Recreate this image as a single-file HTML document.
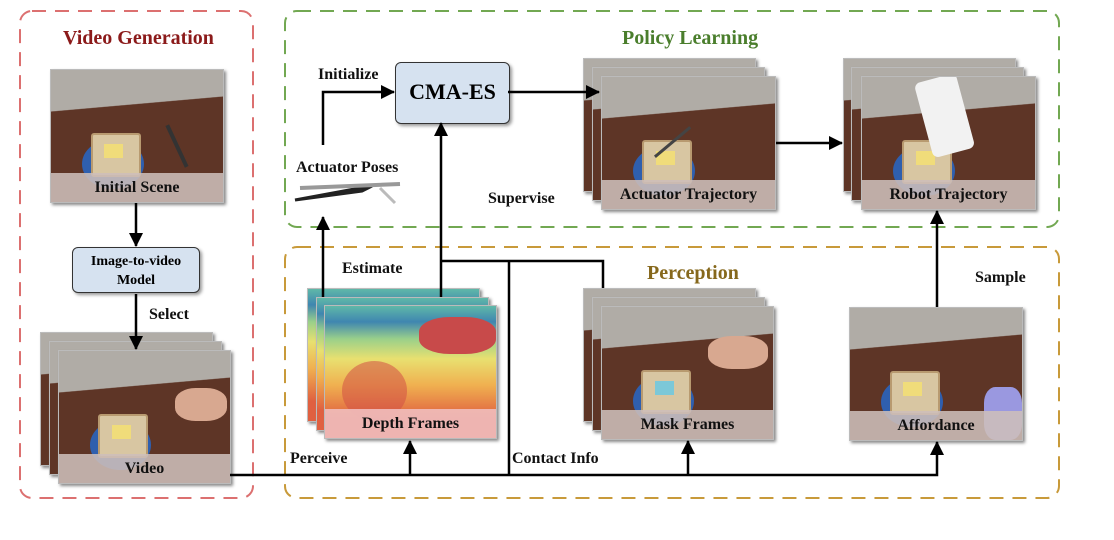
<!DOCTYPE html>
<html><head><meta charset="utf-8"><style>
body{margin:0;background:#fff;width:1114px;height:540px;position:relative;overflow:hidden;font-family:"Liberation Serif",serif;font-weight:bold}
.f{position:absolute;width:173px;height:134px;overflow:hidden;box-shadow:2px 2px 3px #888;border:1px solid #bbb;box-sizing:border-box;
background:linear-gradient(175deg,#b0aca6 0 28%,#5e3526 28.5% 100%)}
.pl{position:absolute;left:18%;top:52%;width:36%;height:38%;border-radius:50%;background:#2f5fae}
.to{position:absolute;left:23%;top:48%;width:27%;height:30%;background:#d8c6a2;border:2px solid #b89a70;border-radius:3px}
.bu{position:absolute;left:31%;top:56%;width:11%;height:11%;background:#f0dc7a}
.lb{position:absolute;left:0;right:0;bottom:0;height:22%;background:rgba(205,190,185,0.88);text-align:center;font-size:16px;line-height:29px;color:#111}
.d{background:linear-gradient(to bottom,#5fb8a8 0%,#3f86b0 12%,#9ad08a 25%,#e8e070 40%,#f0b050 60%,#e06040 85%)}
.t{position:absolute;white-space:nowrap;font-size:16px;color:#111}
.box{position:absolute;background:#d6e2f0;border:1.5px solid #333;border-radius:6px;text-align:center;box-shadow:2px 2px 3px #999}
</style></head><body>

<div class="t" style="left:63px;top:27px;font-size:20px;color:#8b1a1a">Video Generation</div>
<div class="t" style="left:622px;top:27px;font-size:20px;color:#4a7e2c">Policy Learning</div>
<div class="t" style="left:647px;top:262px;font-size:20px;color:#86681c">Perception</div>

<div class="f" style="left:50px;top:69px;width:174px"><div class="pl"></div><div class="to"></div><div class="bu"></div>
<div style="position:absolute;left:72%;top:40%;width:4px;height:35%;background:#333;transform:rotate(-25deg)"></div>
<div class="lb">Initial Scene</div></div>

<div class="box" style="left:72px;top:247px;width:128px;height:46px;font-size:14px;line-height:19px;padding-top:4px;box-sizing:border-box">Image-to-video<br>Model</div>

<div class="f" style="left:40px;top:332px"></div>
<div class="f" style="left:49px;top:341px"></div>
<div class="f" style="left:58px;top:350px"><div class="pl"></div><div class="to"></div><div class="bu"></div>
<div style="position:absolute;left:68%;top:28%;width:30%;height:25%;background:#d8a890;border-radius:40%"></div>
<div class="lb">Video</div></div>

<div class="box" style="left:395px;top:62px;width:113px;height:60px;font-size:22px;line-height:58px">CMA-ES</div>

<svg style="position:absolute;left:290px;top:178px" width="120" height="30">
<path d="M5 22 L70 10 L82 8 L72 13 Z" fill="#333" stroke="#222" stroke-width="3"/>
<path d="M10 10 L110 6" stroke="#999" stroke-width="4"/>
<path d="M90 10 L105 25" stroke="#bbb" stroke-width="3"/>
</svg>

<div class="f" style="left:583px;top:58px"></div>
<div class="f" style="left:592px;top:67px"></div>
<div class="f" style="left:601px;top:76px;width:175px"><div class="pl"></div><div class="to"></div><div class="bu"></div>
<div style="position:absolute;left:40%;top:32%;width:3px;height:35%;background:#444;transform:rotate(50deg)"></div>
<div class="lb">Actuator Trajectory</div></div>

<div class="f" style="left:843px;top:58px"></div>
<div class="f" style="left:851px;top:67px"></div>
<div class="f" style="left:861px;top:76px;width:175px"><div class="pl"></div><div class="to"></div><div class="bu"></div>
<div style="position:absolute;left:35%;top:0;width:25%;height:58%;background:#f2f2f2;transform:rotate(-15deg);border-radius:6px"></div>
<div class="lb">Robot Trajectory</div></div>

<div class="f d" style="left:307px;top:288px"></div>
<div class="f d" style="left:316px;top:297px"></div>
<div class="f d" style="left:324px;top:305px"><div style="position:absolute;left:10%;top:42%;width:38%;height:45%;border-radius:50%;background:rgba(210,80,70,.55)"></div>
<div style="position:absolute;left:55%;top:8%;width:45%;height:28%;background:#c84a4a;border-radius:40%"></div>
<div class="lb" style="background:rgba(240,190,190,.9)">Depth Frames</div></div>

<div class="f" style="left:583px;top:288px"></div>
<div class="f" style="left:592px;top:297px"></div>
<div class="f" style="left:601px;top:306px"><div class="pl"></div><div class="to"></div><div class="bu" style="background:#7cc8d8"></div>
<div style="position:absolute;left:62%;top:22%;width:35%;height:25%;background:#d8a890;border-radius:40%"></div>
<div class="lb">Mask Frames</div></div>

<div class="f" style="left:849px;top:307px;width:174px"><div class="pl"></div><div class="to"></div><div class="bu"></div>
<div style="position:absolute;left:78%;top:60%;width:22%;height:40%;background:#9a98e0;border-radius:30%"></div>
<div class="lb">Affordance</div></div>

<svg style="position:absolute;left:0;top:0" width="1114" height="540">
<defs><marker id="b" markerWidth="14" markerHeight="14" refX="13" refY="7" orient="auto" markerUnits="userSpaceOnUse"><path d="M0 0 L14 7 L0 14 Z" fill="#000"/></marker></defs>
<rect x="20" y="11" width="233" height="487" rx="12" fill="none" stroke="#dc7070" stroke-width="2" stroke-dasharray="14,9"/>
<rect x="285" y="11" width="774" height="216" rx="12" fill="none" stroke="#72a852" stroke-width="2" stroke-dasharray="14,9"/>
<rect x="285" y="247" width="774" height="251" rx="12" fill="none" stroke="#c89a3a" stroke-width="2" stroke-dasharray="14,9"/>
<g stroke="#000" stroke-width="2.5" fill="none">
<path d="M136 203 V246" marker-end="url(#b)"/>
<path d="M136 294 V349" marker-end="url(#b)"/>
<path d="M323 145 V92 H394" marker-end="url(#b)"/>
<path d="M508 92 H599" marker-end="url(#b)"/>
<path d="M776 143 H842" marker-end="url(#b)"/>
<path d="M323 297 V217" marker-end="url(#b)"/>
<path d="M441 297 V123" marker-end="url(#b)"/>
<path d="M441 261 H603 V288"/>
<path d="M509 261 V475"/>
<path d="M230 475 H937 V442" marker-end="url(#b)"/>
<path d="M410 475 V441" marker-end="url(#b)"/>
<path d="M688 475 V441" marker-end="url(#b)"/>
<path d="M937 307 V211" marker-end="url(#b)"/>
</g>
</svg>

<div class="t" style="left:318px;top:66px">Initialize</div>
<div class="t" style="left:296px;top:159px">Actuator Poses</div>
<div class="t" style="left:488px;top:190px">Supervise</div>
<div class="t" style="left:342px;top:260px">Estimate</div>
<div class="t" style="left:149px;top:306px">Select</div>
<div class="t" style="left:975px;top:269px">Sample</div>
<div class="t" style="left:290px;top:450px">Perceive</div>
<div class="t" style="left:512px;top:450px">Contact Info</div>
</body></html>
